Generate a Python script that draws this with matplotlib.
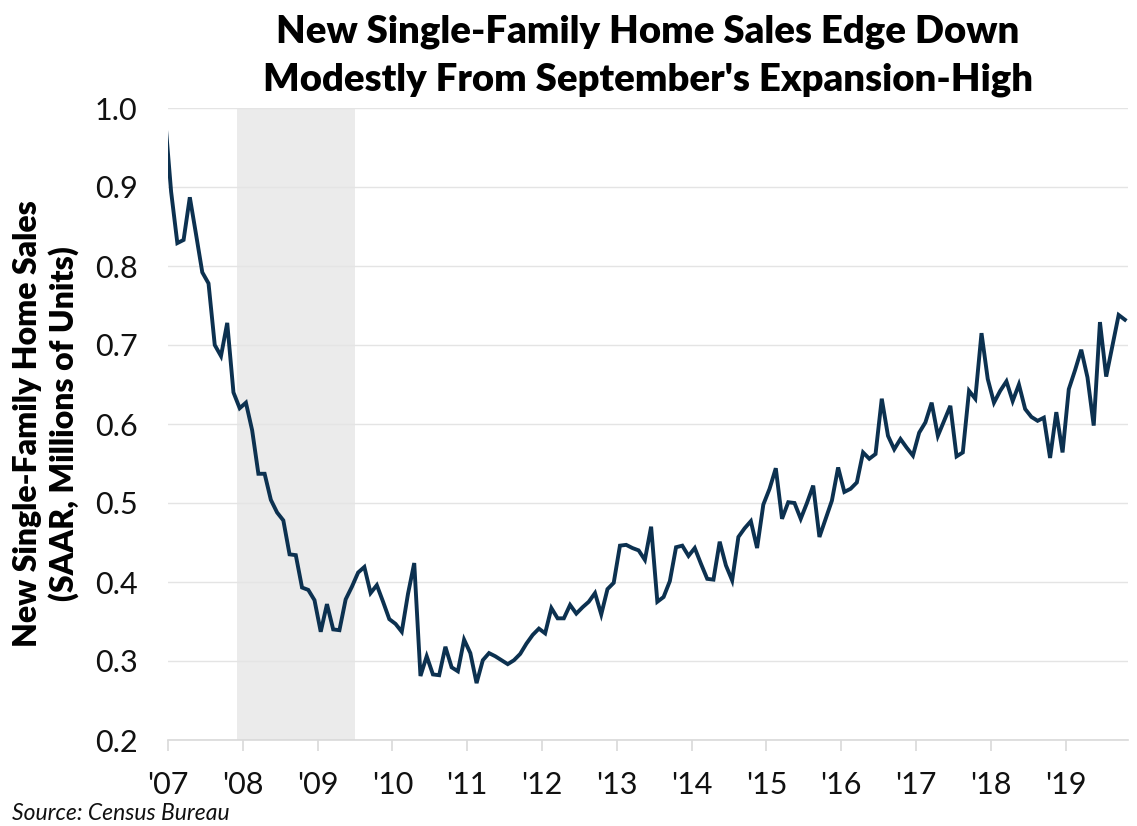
import numpy as np
import matplotlib
matplotlib.use("Agg")
import matplotlib.pyplot as plt

# ---- data (SAAR, millions of units), monthly, Dec 2006 .. Oct 2019 ----
sales_dec2006 = [0.99]
sales_2007 = [0.894, 0.829, 0.833, 0.887, 0.840, 0.792, 0.778, 0.700, 0.686, 0.728, 0.640, 0.620]
sales_2008 = [0.627, 0.592, 0.537, 0.537, 0.504, 0.488, 0.478, 0.435, 0.434, 0.393, 0.390, 0.377]
sales_2009 = [0.337, 0.372, 0.340, 0.339, 0.378, 0.394, 0.412, 0.419, 0.386, 0.396, 0.375, 0.353]
sales_2010 = [0.347, 0.337, 0.385, 0.424, 0.281, 0.306, 0.283, 0.282, 0.318, 0.292, 0.287, 0.327]
sales_2011 = [0.310, 0.272, 0.301, 0.310, 0.306, 0.301, 0.296, 0.301, 0.309, 0.322, 0.333, 0.341]
sales_2012 = [0.335, 0.367, 0.354, 0.354, 0.371, 0.360, 0.368, 0.375, 0.386, 0.359, 0.391, 0.399]
sales_2013 = [0.446, 0.447, 0.443, 0.440, 0.428, 0.470, 0.375, 0.381, 0.401, 0.444, 0.446, 0.433]
sales_2014 = [0.443, 0.423, 0.404, 0.403, 0.451, 0.421, 0.402, 0.457, 0.468, 0.477, 0.443, 0.498]
sales_2015 = [0.518, 0.544, 0.480, 0.501, 0.500, 0.480, 0.500, 0.522, 0.457, 0.480, 0.503, 0.545]
sales_2016 = [0.514, 0.518, 0.526, 0.564, 0.556, 0.562, 0.632, 0.585, 0.568, 0.581, 0.570, 0.560]
sales_2017 = [0.589, 0.602, 0.627, 0.585, 0.604, 0.623, 0.559, 0.564, 0.642, 0.632, 0.715, 0.657]
sales_2018 = [0.627, 0.642, 0.654, 0.629, 0.650, 0.619, 0.609, 0.604, 0.608, 0.557, 0.615, 0.564]
sales_2019 = [0.644, 0.668, 0.694, 0.659, 0.598, 0.729, 0.660, 0.699, 0.738, 0.732]

year_labels = ["'07", "'08", "'09", "'10", "'11", "'12", "'13", "'14",
               "'15", "'16", "'17", "'18", "'19"]
y_ticks = [0.2, 0.3, 0.4, 0.5, 0.6, 0.7, 0.8, 0.9, 1.0]
recession_start_month = 11   # Dec 2007 (months since Jan 2007)
recession_end_month = 30     # end of Jun 2009

sales = (sales_dec2006 + sales_2007 + sales_2008 + sales_2009 + sales_2010 +
         sales_2011 + sales_2012 + sales_2013 + sales_2014 + sales_2015 +
         sales_2016 + sales_2017 + sales_2018 + sales_2019)
# month index (months since Jan 2007), plotted at mid-month
x = np.arange(len(sales)) - 1 + 0.5

plt.rcParams['font.family'] = ['Lato', 'DejaVu Sans']

fig = plt.figure(figsize=(11.37, 8.26), dpi=100)
ax = fig.add_axes([168/1137, 1 - 740/826, (1128-168)/1137, (740-108)/826])

ax.axvspan(recession_start_month, recession_end_month, color='#ebebeb', lw=0, zorder=0)
ax.plot(x, sales, color='#0c3150', lw=2.8, solid_joinstyle='miter', zorder=3)

ax.set_xlim(0, len(sales) - 1)
ax.set_ylim(0.2, 1.0)
ax.set_yticks(y_ticks)
ax.set_yticklabels([f"{v:.1f}" for v in y_ticks])
ax.set_xticks(np.arange(len(year_labels)) * 12)
ax.set_xticklabels(year_labels)

ax.grid(axis='y', color='#e4e4e4', lw=1.0, zorder=1)
for s in ['top', 'right', 'left']:
    ax.spines[s].set_visible(False)
ax.spines['bottom'].set_color('#d9d9d9')
ax.spines['bottom'].set_linewidth(1.2)
ax.tick_params(axis='y', length=0, labelsize=22, pad=22, colors='#111111')
ax.tick_params(axis='x', direction='out', length=8, width=1.2, color='#d9d9d9',
               labelsize=22, pad=14, labelcolor='#111111')

fig.text(648/1137, 1 - 32/826, "New Single-Family Home Sales Edge Down",
         ha='center', va='center', fontsize=27.5, fontweight='heavy', color='black')
fig.text(648/1137, 1 - 80/826, "Modestly From September's Expansion-High",
         ha='center', va='center', fontsize=27.5, fontweight='heavy', color='black')

fig.text(28/1137, 1 - 424/826, "New Single-Family Home Sales",
         ha='center', va='center', rotation=90, fontsize=23, fontweight='heavy')
fig.text(64/1137, 1 - 424/826, "(SAAR, Millions of Units)",
         ha='center', va='center', rotation=90, fontsize=23, fontweight='heavy')

fig.text(12/1137, 1 - 813/826, "Source: Census Bureau", ha='left', va='center',
         fontsize=16.5, style='italic', color='#111111')

fig.savefig("out.png", dpi=100)
